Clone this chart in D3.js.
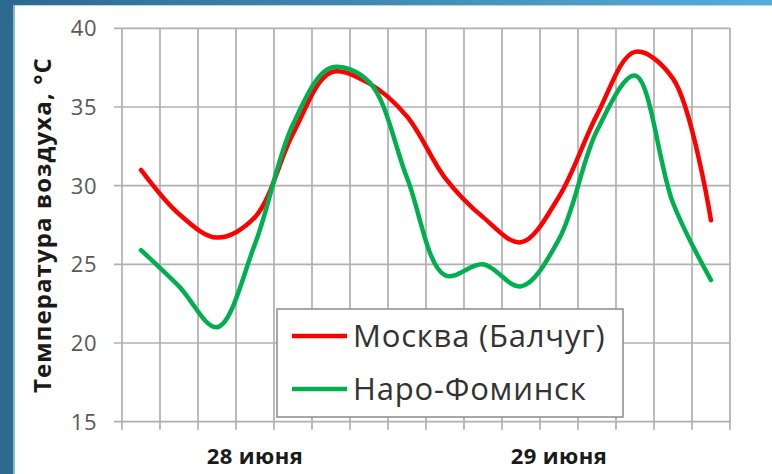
<!DOCTYPE html>
<html><head><meta charset="utf-8">
<script src="https://cdn.jsdelivr.net/npm/d3@7"></script>
<style>body{margin:0;background:#fff;overflow:hidden}</style>
</head><body>
<svg id="c" width="772" height="474"></svg>
<script>
const tickLabels = ["", "", "", "28 июня", "", "", "", "", "", "", "", "29 июня", "", "", "", ""];
const moscow = [31.0, 28.2, 26.7, 28.0, 33.3, 37.2, 36.5, 34.4, 30.5, 28.0, 26.4, 29.3, 34.5, 38.5, 36.8, 27.8];
const naro   = [25.9, 23.6, 21.0, 26.3, 33.9, 37.5, 36.6, 30.5, 24.3, 25.0, 23.6, 26.6, 33.5, 37.0, 28.9, 24.0];
const yTicks = [15, 20, 25, 30, 35, 40];
const seriesNames = ["Москва (Балчуг)", "Наро-Фоминск"];
const seriesColors = ["#ff0000", "#00b050"];
const yTitle = "Температура воздуха, °C";

(function () {
const svg = d3.select("#c");
const W = 772, H = 474;

const defs = svg.append("defs");
const g1 = defs.append("linearGradient").attr("id", "topg").attr("x1", 0).attr("x2", 1).attr("y1", 0).attr("y2", 0);
g1.append("stop").attr("offset", 0).attr("stop-color", "#2c6990");
g1.append("stop").attr("offset", 1).attr("stop-color", "#55addb");
svg.append("rect").attr("x", 0).attr("y", 0).attr("width", W).attr("height", H).attr("fill", "#ffffff");
svg.append("rect").attr("x", 0).attr("y", 0).attr("width", W).attr("height", 5).attr("fill", "url(#topg)");
svg.append("rect").attr("x", 0).attr("y", 0).attr("width", 15).attr("height", H).attr("fill", "#2c6a8f");
svg.append("rect").attr("x", 13).attr("y", 5).attr("width", 2).attr("height", H).attr("fill", "#8bb6cf");
svg.append("rect").attr("x", 15).attr("y", 5).attr("width", W).attr("height", 1).attr("fill", "#b9d6e6");

const pl = 122, pr = 730, pt = 28.3, pb = 421.7;
const x = d3.scaleBand().domain(d3.range(tickLabels.length)).range([pl, pr]);
const y = d3.scaleLinear().domain([15, 40]).range([pb, pt]);

const grid = svg.append("g").attr("stroke", "#b0b0b0").attr("stroke-width", 1.7);
grid.selectAll("line.h").data(yTicks).join("line").attr("class", "h")
  .attr("x1", pl - 8).attr("x2", pr)
  .attr("y1", d => y(d)).attr("y2", d => y(d));
const bounds = x.domain().map(i => x(i)).concat([x(x.domain().length - 1) + x.bandwidth()]);
grid.selectAll("line.v").data(bounds).join("line").attr("class", "v")
  .attr("x1", d => d).attr("x2", d => d)
  .attr("y1", pt).attr("y2", pb + 8);

svg.append("g").selectAll("text").data(yTicks).join("text")
  .attr("x", 97).attr("y", d => y(d)).attr("dy", "0.36em")
  .attr("text-anchor", "end")
  .attr("font-family", "'Open Sans', sans-serif").attr("font-size", 22)
  .attr("letter-spacing", 0.5)
  .attr("fill", "#595959").text(d => d);

svg.append("g").selectAll("text").data(tickLabels.map((t, i) => ({t, i})).filter(d => d.t)).join("text")
  .attr("x", d => x(d.i) + x.bandwidth() / 2).attr("y", pb + 42)
  .attr("text-anchor", "middle")
  .attr("font-family", "'Open Sans', sans-serif").attr("font-weight", "bold").attr("font-size", 22)
  .attr("letter-spacing", 0.4)
  .attr("fill", "#1a1a1a").text(d => d.t);

svg.append("text")
  .attr("transform", `translate(51,${(pt + pb) / 2}) rotate(-90)`)
  .attr("text-anchor", "middle")
  .attr("font-family", "'Open Sans', sans-serif").attr("font-weight", "bold").attr("font-size", 24)
  .attr("letter-spacing", 1.1)
  .attr("fill", "#1a1a1a").text(yTitle);

const line = d3.line().x((d, i) => x(i) + x.bandwidth() / 2).y(d => y(d)).curve(d3.curveCatmullRom.alpha(0.5));
[moscow, naro].forEach((s, k) => {
  svg.append("path").attr("d", line(s)).attr("fill", "none")
    .attr("stroke", seriesColors[k]).attr("stroke-width", 4.5)
    .attr("stroke-linecap", "round").attr("stroke-linejoin", "round");
});

const lg = svg.append("g");
lg.append("rect").attr("x", 277).attr("y", 309).attr("width", 346).attr("height", 108)
  .attr("fill", "#ffffff").attr("stroke", "#8a8a8a").attr("stroke-width", 1.5);
seriesNames.forEach((n, k) => {
  const yy = 336 + k * 53;
  lg.append("line").attr("x1", 292).attr("x2", 347).attr("y1", yy).attr("y2", yy)
    .attr("stroke", seriesColors[k]).attr("stroke-width", 4.5);
  lg.append("text").attr("x", 353).attr("y", yy + 11)
    .attr("font-family", "'Open Sans', sans-serif").attr("font-size", 31)
    .attr("letter-spacing", 0.8)
    .attr("fill", "#333333").text(n);
});
})();
</script>
</body></html>
